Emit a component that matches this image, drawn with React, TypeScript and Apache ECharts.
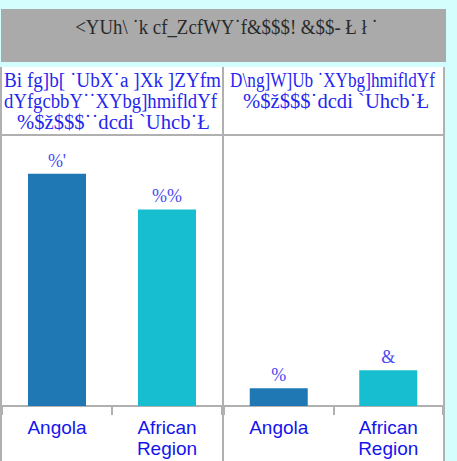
import React, { useEffect, useRef } from "react";
import * as echarts from "echarts";

const categories = ["Angola", "African\nRegion"];
const nursingValues = [13, 11];
const physicianValues = [1, 2];
const barColors = ["#1f77b4", "#17becf"];
const titleText = "<YUh\\ ˙k cf_ZcfWY˙f&$$$! &$$- Ł ł ˙";
const leftHeader = ["Bi fg]b[ ˙UbX˙a ]Xk ]ZYfm", "dYfgcbbY˙˙XYbg]hmifldYf", "%$ž$$$˙˙dcdi `Uhcb˙Ł"];
const rightHeader = ["D\\ng]W]Ub ˙XYbg]hmifldYf", "%$ž$$$˙dcdi `Uhcb˙Ł"];
const yMax = 15;

const encode = (v: number) =>
  String(v)
    .split("")
    .map((c) => String.fromCharCode(c.charCodeAt(0) - 12))
    .join("");

export default function App() {
  const ref = useRef<HTMLDivElement>(null);
  useEffect(() => {
    if (!ref.current) return;
    const chart = echarts.init(ref.current, undefined, { renderer: "svg" });
    const gray = "#b0b0b0";
    const serifName = "Liberation Serif";
    const serif = "'Liberation Serif', 'Times New Roman', serif";
    const headerColor = "#2626ee";
    const ctx = document.createElement("canvas").getContext("2d");
    const fitScale = (t: string, size: number, target: number) => {
      if (!ctx) return 1;
      ctx.font = `${size}px "${serifName}"`;
      const w = ctx.measureText(t).width;
      return w > 0 ? target / w : 1;
    };
    const fitText = (t: string, cx: number, cy: number, target: number, size: number, color: string) => ({
      type: "text",
      x: cx,
      y: cy,
      scaleX: fitScale(t, size, target),
      z: 5,
      style: {
        text: t,
        fill: color,
        font: `${size}px ${serif}`,
        textAlign: "center",
        textVerticalAlign: "middle",
      },
    });
    const leftPos = [
      [112.5, 80, 217],
      [110.5, 101, 213],
      [113.5, 122, 193],
    ];
    const rightPos = [
      [332.5, 80, 205],
      [336, 101, 186],
    ];
    const xAxisBase = (gi: number) => ({
      type: "category",
      gridIndex: gi,
      data: categories,
      axisLine: { show: true, lineStyle: { color: gray, width: 2 } },
      axisTick: { show: true, length: 9, lineStyle: { color: gray, width: 2 } },
      axisLabel: {
        color: "#1414ee",
        fontFamily: "'Liberation Sans', Arial, sans-serif",
        fontSize: 19,
        lineHeight: 21,
        margin: 11,
        interval: 0,
      },
    });
    const yAxisBase = (gi: number) => ({
      type: "value",
      gridIndex: gi,
      min: 0,
      max: yMax,
      show: false,
      splitLine: { show: false },
    });
    const seriesBase = (gi: number, vals: number[]) => ({
      type: "bar",
      xAxisIndex: gi,
      yAxisIndex: gi,
      barWidth: 58,
      data: vals.map((v, i) => ({ value: v, itemStyle: { color: barColors[i] } })),
      label: {
        show: true,
        position: "top",
        distance: 4,
        color: "#4a4af0",
        fontFamily: serif,
        fontSize: 18,
        formatter: (p: any) => encode(p.value),
      },
      z: 3,
    });
    chart.setOption({
      animation: false,
      backgroundColor: "#d4fefe",
      grid: [
        { left: 2, top: 138, width: 220, height: 268 },
        { left: 224, top: 138, width: 219, height: 268 },
      ],
      xAxis: [xAxisBase(0), xAxisBase(1)],
      yAxis: [yAxisBase(0), yAxisBase(1)],
      series: [seriesBase(0, nursingValues), seriesBase(1, physicianValues)],
      graphic: [
        { type: "rect", z: -10, shape: { x: 1, y: 9, width: 445, height: 53 }, style: { fill: "#aaaaaa" } },
        { type: "rect", z: -10, shape: { x: 0, y: 67, width: 445, height: 394 }, style: { fill: "#ffffff" } },
        { type: "rect", z: -5, shape: { x: 0, y: 67, width: 2, height: 394 }, style: { fill: gray } },
        { type: "rect", z: -5, shape: { x: 222, y: 67, width: 2, height: 394 }, style: { fill: gray } },
        { type: "rect", z: -5, shape: { x: 443, y: 67, width: 2, height: 394 }, style: { fill: gray } },
        { type: "rect", z: -5, shape: { x: 0, y: 134, width: 445, height: 2 }, style: { fill: gray } },
        fitText(titleText, 226.5, 27, 303, 20, "#2a2a2a"),
        ...leftHeader.map((t, i) => fitText(t, leftPos[i][0], leftPos[i][1], leftPos[i][2], 20, headerColor)),
        ...rightHeader.map((t, i) => fitText(t, rightPos[i][0], rightPos[i][1], rightPos[i][2], 20, headerColor)),
      ],
    });
    return () => chart.dispose();
  }, []);
  return (
    <div style={{ position: "fixed", left: 0, top: 0, width: 457, height: 461 }}>
      <div ref={ref} style={{ width: 457, height: 461 }} />
    </div>
  );
}
